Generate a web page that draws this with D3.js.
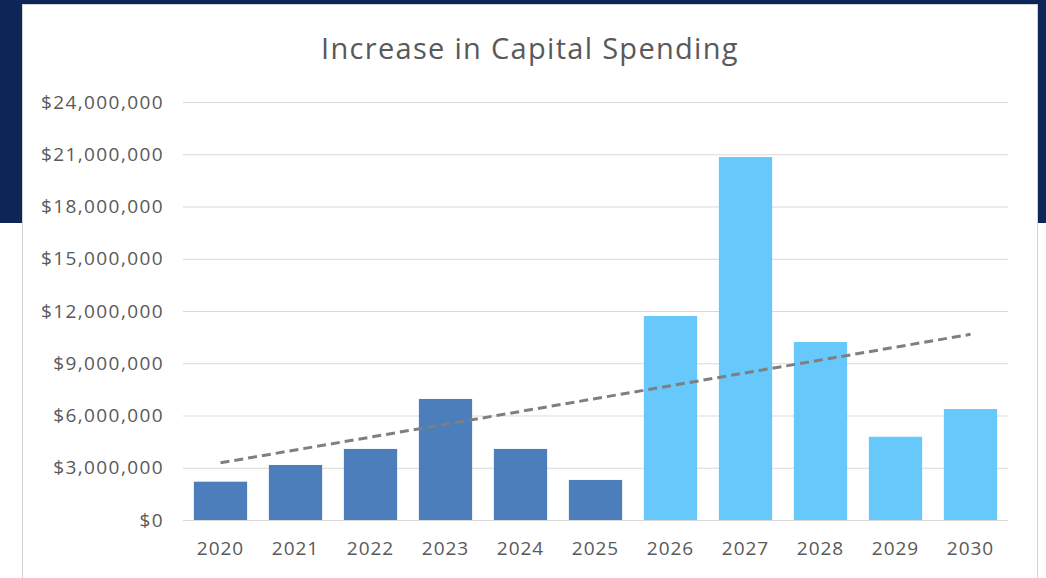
<!DOCTYPE html>
<html>
<head>
<meta charset="utf-8">
<script src="https://cdn.jsdelivr.net/npm/d3@7"></script>
<style>
  html, body { margin: 0; padding: 0; background: #fff; }
  svg { display: block; }
</style>
</head>
<body>
<div id="chart"></div>
<script>
// data
const years = ["2020", "2021", "2022", "2023", "2024", "2025", "2026", "2027", "2028", "2029", "2030"]
const spending = [2200000, 3160000, 4080000, 6950000, 4080000, 2300000, 11710000, 20840000, 10220000, 4780000, 6370000]
const actualYears = ["2020", "2021", "2022", "2023", "2024", "2025"] // dark bars, rest projected
const yTicks = [0, 3000000, 6000000, 9000000, 12000000, 15000000, 18000000, 21000000, 24000000]
const title = "Increase in Capital Spending"

const width = 1046
const height = 578
const margin = ({top: 102, right: 38, bottom: 58, left: 183}) // plot box inside the page

const svg = d3.select("#chart").append("svg")
    .attr("width", width)
    .attr("height", height)
    .attr("viewBox", [0, 0, width, height])

// navy slide background behind the white chart panel
svg.append("rect")
    .attr("x", 0).attr("y", 0)
    .attr("width", width).attr("height", 223)
    .attr("fill", "#0b2657")

svg.append("rect")
    .attr("x", 22.5).attr("y", 4.5)
    .attr("width", 1015).attr("height", 590)
    .attr("fill", "#fff")
    .attr("stroke", "#d4d4d4")

const x = d3.scaleBand()
    .domain(years)
    .range([margin.left, width - margin.right])
    .paddingInner(0.29)
    .paddingOuter(0.145)

const y = d3.scaleLinear()
    .domain([0, 24000000])
    .range([height - margin.bottom, margin.top])

const fmt = d => "$" + d3.format(",")(d)

// gridlines + y labels
const yAxis = g => g
    .attr("transform", `translate(${margin.left},0)`)
    .call(d3.axisLeft(y)
        .tickValues(yTicks)
        .tickFormat(fmt)
        .tickSize(-(width - margin.left - margin.right))
        .tickPadding(19))
    .call(g => g.select(".domain").remove())
    .call(g => g.selectAll(".tick line").attr("stroke", "#d9d9d9"))
    .call(g => g.selectAll(".tick text")
        .attr("fill", "#595959")
        .attr("font-family", "'Open Sans', sans-serif")
        .attr("font-size", 19)
        .attr("letter-spacing", 1.4))

svg.append("g").call(yAxis)

// year labels
const xAxis = g => g
    .attr("transform", `translate(0,${height - margin.bottom})`)
    .call(d3.axisBottom(x).tickSize(0).tickPadding(22))
    .call(g => g.select(".domain").remove())
    .call(g => g.selectAll(".tick text")
        .attr("fill", "#595959")
        .attr("font-family", "'Open Sans', sans-serif")
        .attr("font-size", 19)
        .attr("letter-spacing", 1))

svg.append("g").call(xAxis)

// bars
svg.append("g")
    .selectAll("rect")
    .data(years.map((yr, i) => ({yr, v: spending[i]})))
    .join("rect")
    .attr("x", d => x(d.yr))
    .attr("y", d => y(d.v))
    .attr("width", x.bandwidth())
    .attr("height", d => y(0) - y(d.v))
    .attr("fill", d => actualYears.includes(d.yr) ? "#4b7ebb" : "#66c8fb")

// linear trendline (least squares over the bars)
const idx = years.map((_, i) => i)
const mx = d3.mean(idx), my = d3.mean(spending)
const slope = d3.sum(idx, i => (i - mx) * (spending[i] - my)) / d3.sum(idx, i => (i - mx) ** 2)
const intercept = my - slope * mx
const trend = [0, years.length - 1].map(i => ({yr: years[i], v: intercept + slope * i}))

svg.append("path")
    .datum(trend)
    .attr("fill", "none")
    .attr("stroke", "#7f7f7f")
    .attr("stroke-width", 3)
    .attr("stroke-dasharray", "9,5")
    .attr("d", d3.line()
        .x(d => x(d.yr) + x.bandwidth() / 2)
        .y(d => y(d.v)))

// title
svg.append("text")
    .attr("x", 530)
    .attr("y", 59)
    .attr("text-anchor", "middle")
    .attr("fill", "#595959")
    .attr("font-family", "'Open Sans', sans-serif")
    .attr("font-size", 29)
    .attr("letter-spacing", 1.3)
    .text(title)
</script>
</body>
</html>
